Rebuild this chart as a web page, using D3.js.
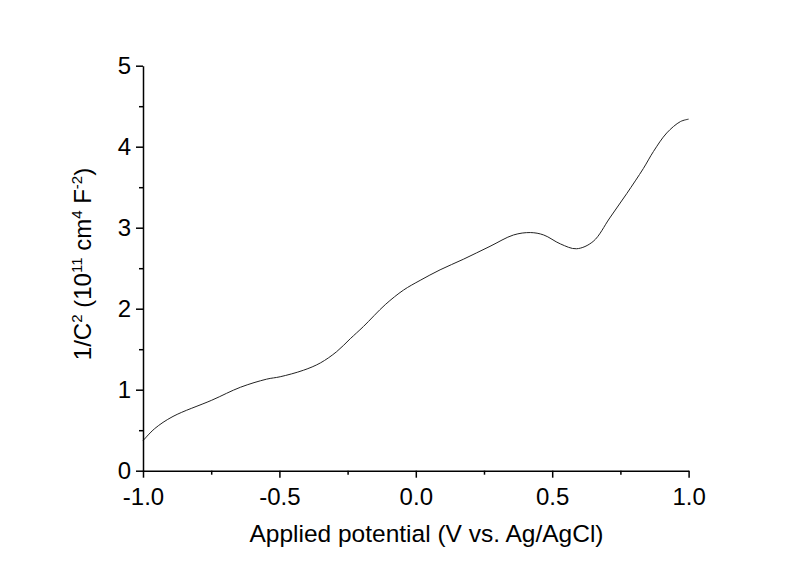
<!DOCTYPE html>
<html>
<head>
<meta charset="utf-8">
<script src="https://cdn.jsdelivr.net/npm/d3@7"></script>
<style>
  html, body { margin: 0; padding: 0; background: #fff; }
  svg { display: block; }
  text { font-family: "Liberation Sans", Arial, sans-serif; fill: #000; }
</style>
</head>
<body>
<svg id="chart" width="800" height="565"></svg>
<script>
// Data
const potential = [-1.0, -0.957, -0.89, -0.748, -0.643, -0.547, -0.497, -0.412, -0.35, -0.29, -0.24, -0.192, -0.112, -0.045, 0.016, 0.089, 0.174, 0.272, 0.358, 0.42, 0.469, 0.53, 0.589, 0.65, 0.711, 0.773, 0.834, 0.871, 0.92, 0.97, 1.0];
const invC2 = [0.37, 0.52, 0.67, 0.87, 1.03, 1.13, 1.16, 1.24, 1.33, 1.47, 1.63, 1.78, 2.05, 2.23, 2.35, 2.48, 2.61, 2.77, 2.91, 2.94, 2.91, 2.80, 2.74, 2.83, 3.12, 3.42, 3.73, 3.94, 4.17, 4.31, 4.34];
const xTicks = [-1.0, -0.5, 0.0, 0.5, 1.0];
const xMinorTicks = [-0.75, -0.25, 0.25, 0.75];
const yTicks = [0, 1, 2, 3, 4, 5];
const yMinorTicks = [0.5, 1.5, 2.5, 3.5, 4.5];

(function () {
const svg = d3.select("#chart");
const mLeft = 143, mRight = 688.6, mTop = 65.7, mBottom = 470.7;

const x = d3.scaleLinear().domain([-1, 1]).range([mLeft, mRight]);
const y = d3.scaleLinear().domain([0, 5]).range([mBottom, mTop]);

const data = potential.map((v, i) => ({ x: v, y: invC2[i] }));

// Curve
svg.append("path")
  .datum(data)
  .attr("fill", "none")
  .attr("stroke", "#222")
  .attr("stroke-width", 1)
  .attr("d", d3.line().x(d => x(d.x)).y(d => y(d.y)).curve(d3.curveCatmullRom.alpha(0.5)));

const fmtX = d => d3.format(".1f")(d).replace("\u2212", "-");

// X axis
svg.append("g").attr("transform", `translate(0,${mBottom})`)
  .call(d3.axisBottom(x).tickValues(xTicks).tickFormat(fmtX).tickSize(7).tickPadding(10).tickSizeOuter(0));
svg.append("g").attr("transform", `translate(0,${mBottom})`)
  .call(d3.axisBottom(x).tickValues(xMinorTicks).tickFormat("").tickSize(4).tickSizeOuter(0))
  .select(".domain").remove();

// Y axis
svg.append("g").attr("transform", `translate(${mLeft},0)`)
  .call(d3.axisLeft(y).tickValues(yTicks).tickFormat(d3.format("d")).tickSize(7).tickPadding(5).tickSizeOuter(0));
svg.append("g").attr("transform", `translate(${mLeft},0)`)
  .call(d3.axisLeft(y).tickValues(yMinorTicks).tickFormat("").tickSize(4).tickSizeOuter(0))
  .select(".domain").remove();

svg.selectAll(".domain, .tick line").attr("stroke", "#000").attr("stroke-width", 1.5);
svg.selectAll(".tick text").style("font-size", "24px").style("font-family", "'Liberation Sans', Arial, sans-serif").attr("fill", "#000");

// X title
svg.append("text")
  .attr("x", 426.5).attr("y", 541.5)
  .attr("text-anchor", "middle")
  .style("font-size", "24.5px")
  .text("Applied potential (V vs. Ag/AgCl)");

// Y title with superscripts
const yt = svg.append("text")
  .attr("transform", "translate(91,264) rotate(-90)")
  .attr("text-anchor", "middle")
  .style("font-size", "24px");
const sup = (t) => yt.append("tspan").attr("dy", -9).style("font-size", "15px").text(t);
const norm = (t) => yt.append("tspan").attr("dy", 9).text(t);
yt.append("tspan").text("1/C");
sup("2");
norm(" (10");
sup("11");
norm(" cm");
sup("4");
norm(" F");
sup("-2");
norm(")");
})();
</script>
</body>
</html>
